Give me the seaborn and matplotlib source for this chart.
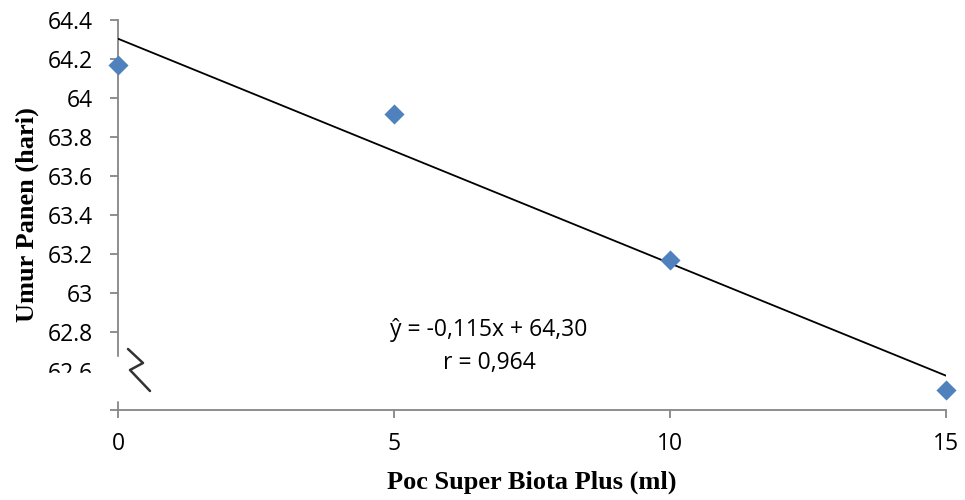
import numpy as np
import pandas as pd
import matplotlib
matplotlib.use("Agg")
import matplotlib.pyplot as plt
import seaborn as sns
from matplotlib.lines import Line2D
from matplotlib.patches import Rectangle

# data
dose = [0, 5, 10, 15]
umur_panen = [64.17, 63.92, 63.17, 62.50]
ytick_vals = [62.4, 62.6, 62.8, 63.0, 63.2, 63.4, 63.6, 63.8, 64.0, 64.2, 64.4]
ytick_labels = ["", "62.6", "62.8", "63", "63.2", "63.4", "63.6", "63.8", "64", "64.2", "64.4"]
xtick_vals = [0, 5, 10, 15]
eq_text = "ŷ = -0,115x + 64,30\nr = 0,964"

df = pd.DataFrame({"dose": dose, "umur": umur_panen})

sns.set_style("white")
plt.rcParams["font.family"] = ["Open Sans", "DejaVu Sans"]
plt.rcParams["text.color"] = "black"
plt.rcParams["axes.labelcolor"] = "black"

axis_grey = "#868686"
marker_blue = "#4F81BD"

fig = plt.figure(figsize=(9.65, 5.0), dpi=100)
ax = fig.add_axes([118 / 965, 90 / 500, 828 / 965, 390 / 500])

sns.regplot(data=df, x="dose", y="umur", ax=ax, ci=None, truncate=True,
            marker="D",
            scatter_kws={"s": 105, "color": marker_blue, "alpha": 1, "linewidths": 0,
                         "zorder": 3, "clip_on": False},
            line_kws={"color": "black", "linewidth": 1.3, "zorder": 2})

ax.set_xlim(0, 15)
ax.set_ylim(62.4, 64.4)
ax.set_xticks(xtick_vals)
ax.set_yticks(ytick_vals)
ax.set_yticklabels(ytick_labels)

for side in ["top", "right"]:
    ax.spines[side].set_visible(False)
for side in ["left", "bottom"]:
    ax.spines[side].set_color(axis_grey)
    ax.spines[side].set_linewidth(1.3)
ax.spines["left"].set_zorder(1)

ax.tick_params(axis="both", direction="out", length=6, width=1.3, color=axis_grey,
               labelsize=16.5, labelcolor="black")
ax.tick_params(axis="y", pad=12, left=True)
ax.tick_params(axis="x", pad=10, bottom=True)

ax.set_xlabel("Poc Super Biota Plus (ml)", family="Liberation Serif", fontweight="bold",
              fontsize=19, labelpad=10)
ax.set_ylabel("Umur Panen (hari)", family="Liberation Serif", fontweight="bold",
              fontsize=19, labelpad=6)

# regression equation
ax.text(0.448, 0.163, eq_text, transform=ax.transAxes, ha="center", va="center",
        multialignment="center", fontsize=16.5, linespacing=1.5)

# y-axis break: white mask over the spine and the lower label, then a zigzag
fig.patches.append(Rectangle((40 / 965, 100 / 500), 85 / 965, 27 / 500,
                             transform=fig.transFigure, color="white", zorder=5))
fig.patches.append(Rectangle((110 / 965, 100 / 500), 15 / 965, 43 / 500,
                             transform=fig.transFigure, color="white", zorder=5))
zx = np.array([128, 143, 130, 150]) / 965
zy = 1 - np.array([349, 363, 370, 391]) / 500
fig.lines.append(Line2D(zx, zy, transform=fig.transFigure, color="#333333",
                        linewidth=1.8, zorder=6))

fig.savefig("out.png", dpi=100)
